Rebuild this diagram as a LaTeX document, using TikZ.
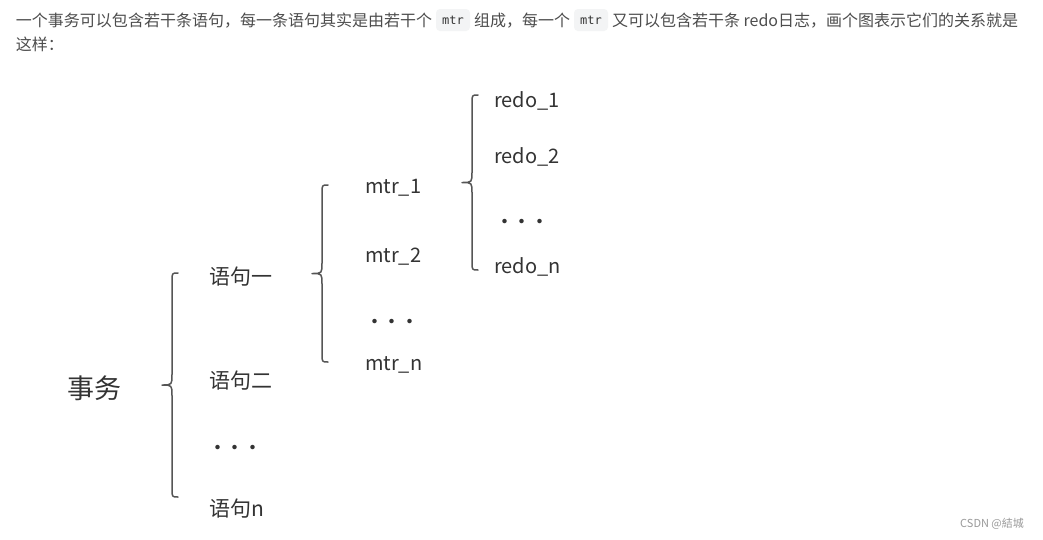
\documentclass[tikz,border=0pt]{standalone}
\usepackage{fontspec}
\setmainfont{Noto Sans CJK SC}
\newfontfamily\chipfont{DejaVu Sans Mono}
\definecolor{bodytxt}{HTML}{4D4D4D}
\definecolor{figtxt}{HTML}{333333}
\definecolor{bracecol}{HTML}{555555}
\definecolor{chipbg}{HTML}{F3F4F5}
\definecolor{wmcol}{HTML}{999999}
\newcommand\mybrace[5]{% tip x, vertical x, end x, top y, bottom y
  \pgfmathsetmacro\bym{(#4+#5)/2}
  \draw[bracestyle] (#3,#4) .. controls (#2,#4) .. (#2,#4+8)
    -- (#2,\bym-11) .. controls (#2,\bym) .. (#1,\bym)
    .. controls (#2,\bym) .. (#2,\bym+11)
    -- (#2,#5-8) .. controls (#2,#5) .. (#3,#5);
}
\begin{document}
\begin{tikzpicture}[x=1pt,y=-1pt,
  bodytext/.style={anchor=base west,inner sep=0pt,outer sep=0pt,text=bodytxt,font=\fontsize{16}{16}\selectfont},
  chip/.style={fill=chipbg,rounded corners=4pt,minimum width=34pt,minimum height=22pt,inner sep=0pt,text=figtxt,font=\chipfont\fontsize{12}{12}\selectfont},
  item/.style={anchor=base west,inner sep=0pt,outer sep=0pt,text=figtxt,font=\fontsize{20}{20}\selectfont},
  cjkitem/.style={item,font=\fontsize{21}{21}\selectfont},
  dotsrow/.style={anchor=base west,inner sep=0pt,outer sep=0pt,text=figtxt,font=\fontsize{21}{21}\selectfont},
  bracestyle/.style={draw=bracecol,line width=1.5pt,line cap=round,line join=round},
  watermark/.style={anchor=base west,inner sep=0pt,text=wmcol,font=\fontsize{11}{11}\selectfont}]
\useasboundingbox[fill=white] (0,0) rectangle (1043,539);
% top paragraph
\node[bodytext] (t1) at (16,26) {一个事务可以包含若干条语句，每一条语句其实是由若干个};
\node[chip] (c1) at (453,20) {mtr};
\node[bodytext] (t2) at (474,26) {组成，每一个};
\node[chip] (c2) at (591,20) {mtr};
\node[bodytext] (t3) at (612,26) {又可以包含若干条 redo日志，画个图表示它们的关系就是};
\node[bodytext] (t4) at (16,50) {这样：};
% level 0
\node[item,font=\fontsize{27}{27}\selectfont] (tx) at (67,398) {事务};
% level 1
\node[cjkitem] (s1) at (209,284) {语句一};
\node[cjkitem] (s2) at (209,388) {语句二};
\node[dotsrow] (sd) at (207,455) {·\kern-3.5pt·\kern-3.5pt·};
\node[cjkitem] (sn) at (209,516) {语句n};
% level 2
\node[item] (m1) at (365,193) {mtr\_1};
\node[item] (m2) at (365,262) {mtr\_2};
\node[dotsrow] (md) at (364,329) {·\kern-3.5pt·\kern-3.5pt·};
\node[item] (mn) at (365,370) {mtr\_n};
% level 3
\node[item] (r1) at (494,107) {redo\_1};
\node[item] (r2) at (494,163) {redo\_2};
\node[dotsrow] (rd) at (494,229) {·\kern-3.5pt·\kern-3.5pt·};
\node[item] (rn) at (494,273) {redo\_n};
% braces
\mybrace{162}{172}{178}{273}{497}
\mybrace{312}{322}{328}{185}{362}
\mybrace{462}{472}{478}{95}{270}
% watermark
\node[watermark] (wm) at (960,527) {CSDN @結城};
\end{tikzpicture}
\end{document}
